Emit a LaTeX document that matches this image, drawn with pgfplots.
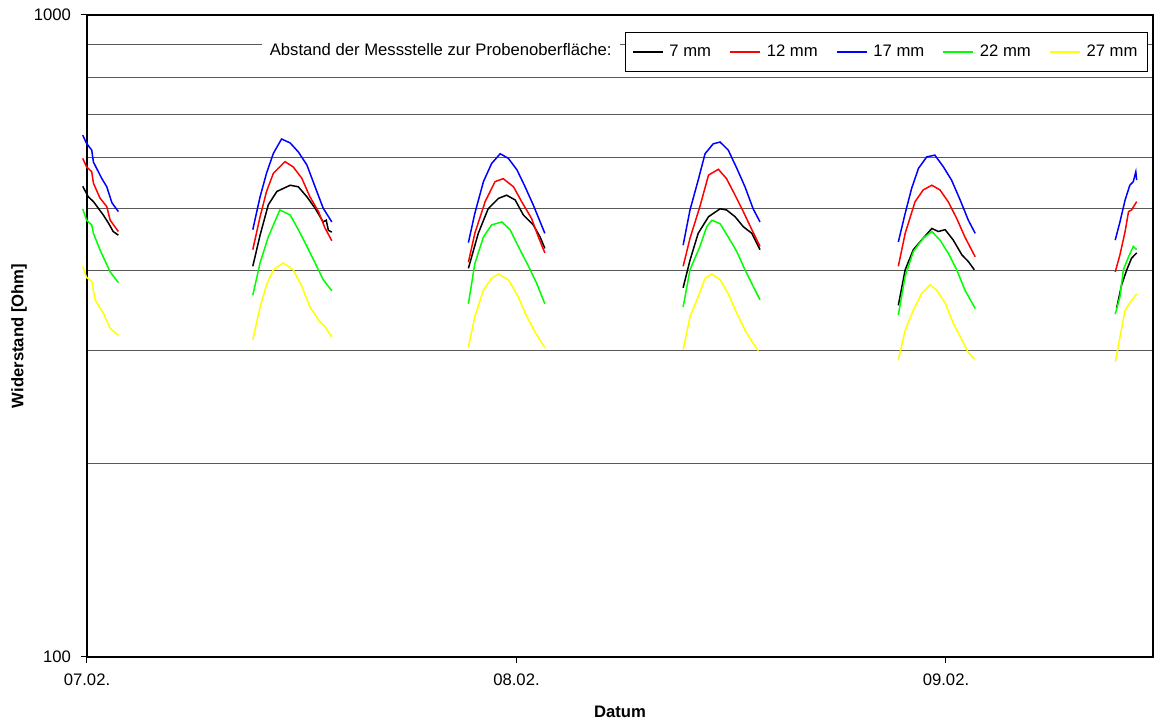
\documentclass[border=0pt]{standalone}
\usepackage{fontspec}
\setmainfont{Liberation Sans}
\usepackage{pgfplots}
\pgfplotsset{compat=1.18}
\definecolor{SerRed}{HTML}{FF0000}
\definecolor{SerBlue}{HTML}{0000FF}
\definecolor{SerGreen}{HTML}{00FF00}
\definecolor{SerYellow}{HTML}{FFFF00}
\begin{document}
\begin{tikzpicture}
\begin{axis}[
  scale only axis,
  width=639.6pt, height=385.2pt,
  xmin=0, xmax=2.482,
  ymode=log, ymin=100, ymax=1000,
  clip=false,
  unbounded coords=jump,
  xtick={0,1,2}, xticklabels={07.02.,08.02.,09.02.},
  ytick={100,1000}, yticklabels={100,1000},
  minor ytick={200,300,400,500,600,700,800,900},
  yminorgrids,
  minor grid style={black!65, line width=0.6pt},
  minor tick length=0pt,
  major tick length=3.6pt,
  tick align=outside,
  xtick pos=left, ytick pos=left,
  tick style={black, line width=0.6pt},
  axis line style={black, line width=0.8pt},
  /pgf/number format/assume math mode=true,
  ticklabel style={font=\fontsize{10}{12}\selectfont},
  xticklabel style={yshift=-3pt},
  yticklabel style={xshift=-2.5pt},
  xlabel={\textbf{Datum}},
  ylabel={\textbf{Widerstand [Ohm]}},
  label style={font=\fontsize{10}{12}\selectfont},
  xlabel style={at={(axis description cs:0.5,-0.0857)}, anchor=center},
  ylabel style={at={(axis description cs:-0.0638,0.5)}, anchor=center},
  legend columns=5,
  legend style={at={(rel axis cs:0.9953,0.9735)}, anchor=north east,
    draw=black, line width=0.6pt, fill=white,
    inner xsep=4pt, inner ysep=5.5pt,
    font=\fontsize{10}{12}\selectfont,
    /tikz/every odd column/.append style={column sep=1.5pt},
    /tikz/every even column/.append style={column sep=9pt}},
  legend image code/.code={\draw[#1, line width=0.9pt] (0pt,0pt) -- (18pt,0pt);},
]
% 7 mm
\addplot[black, line width=0.9pt] coordinates {
 (-0.010,541) (0.003,521) (0.015,512) (0.038,488) (0.050,474) (0.061,460) (0.073,454)
 (0.2,nan)
 (0.386,406) (0.403,454) (0.422,506) (0.442,531) (0.473,543) (0.492,540) (0.512,521) (0.531,500) (0.550,476) (0.557,479) (0.562,462) (0.570,459)
 (0.7,nan)
 (0.888,403) (0.911,457) (0.934,499) (0.958,518) (0.977,524) (0.997,515) (1.016,488) (1.039,471) (1.055,451) (1.066,433)
 (1.2,nan)
 (1.388,376) (1.404,415) (1.423,457) (1.447,485) (1.474,499) (1.489,497) (1.509,485) (1.528,468) (1.548,457) (1.567,431)
 (1.7,nan)
 (1.889,353) (1.905,401) (1.924,431) (1.943,446) (1.967,465) (1.982,460) (1.998,463) (2.017,446) (2.037,423) (2.052,413) (2.066,401)
 (2.2,nan)
 (2.397,349) (2.409,380) (2.421,401) (2.432,418) (2.444,426)
};
% 12 mm
\addplot[SerRed, line width=0.9pt] coordinates {
 (-0.010,598) (-0.001,580) (0.011,570) (0.015,547) (0.030,519) (0.046,503) (0.054,479) (0.073,460)
 (0.2,nan)
 (0.386,431) (0.403,485) (0.418,531) (0.434,567) (0.461,591) (0.480,580) (0.500,557) (0.519,521) (0.539,494) (0.554,466) (0.570,445)
 (0.7,nan)
 (0.888,412) (0.903,457) (0.927,512) (0.950,550) (0.969,556) (0.993,540) (1.012,512) (1.035,482) (1.051,451) (1.066,426)
 (1.2,nan)
 (1.388,406) (1.404,449) (1.427,503) (1.447,563) (1.470,575) (1.489,556) (1.509,524) (1.528,494) (1.548,463) (1.567,436)
 (1.7,nan)
 (1.889,406) (1.905,457) (1.928,512) (1.947,534) (1.967,543) (1.986,534) (2.005,512) (2.025,482) (2.044,451) (2.068,420)
 (2.2,nan)
 (2.394,398) (2.405,423) (2.417,460) (2.425,494) (2.432,497) (2.444,512)
};
% 17 mm
\addplot[SerBlue, line width=0.9pt] coordinates {
 (-0.010,650) (-0.001,631) (0.011,616) (0.015,590) (0.034,557) (0.046,540) (0.058,510) (0.073,494)
 (0.2,nan)
 (0.386,463) (0.403,521) (0.418,567) (0.434,609) (0.453,641) (0.473,632) (0.492,612) (0.512,584) (0.531,540) (0.550,500) (0.570,476)
 (0.7,nan)
 (0.888,442) (0.903,491) (0.923,550) (0.942,587) (0.962,608) (0.981,598) (1.001,574) (1.020,540) (1.039,506) (1.066,457)
 (1.2,nan)
 (1.388,438) (1.404,497) (1.423,553) (1.439,608) (1.458,630) (1.474,634) (1.493,616) (1.513,577) (1.532,540) (1.551,499) (1.567,476)
 (1.7,nan)
 (1.889,443) (1.905,491) (1.920,537) (1.936,577) (1.955,601) (1.974,605) (1.994,580) (2.013,553) (2.033,515) (2.052,479) (2.068,457)
 (2.2,nan)
 (2.394,446) (2.405,476) (2.417,515) (2.428,543) (2.436,550) (2.442,570) (2.444,553)
};
% 22 mm
\addplot[SerGreen, line width=0.9pt] coordinates {
 (-0.010,499) (-0.001,479) (0.011,471) (0.015,457) (0.030,431) (0.054,398) (0.073,383)
 (0.2,nan)
 (0.386,366) (0.403,411) (0.422,451) (0.449,497) (0.473,488) (0.492,463) (0.512,436) (0.531,411) (0.550,387) (0.570,372)
 (0.7,nan)
 (0.888,355) (0.903,410) (0.923,451) (0.942,471) (0.966,476) (0.985,463) (1.008,431) (1.028,406) (1.047,382) (1.066,355)
 (1.2,nan)
 (1.388,351) (1.404,401) (1.427,436) (1.443,468) (1.455,479) (1.474,473) (1.493,451) (1.513,428) (1.532,401) (1.551,378) (1.567,360)
 (1.7,nan)
 (1.889,341) (1.905,392) (1.924,428) (1.947,449) (1.967,460) (1.986,446) (2.005,426) (2.025,401) (2.044,373) (2.068,349)
 (2.2,nan)
 (2.394,342) (2.405,364) (2.413,401) (2.425,420) (2.436,436) (2.444,431)
};
% 27 mm
\addplot[SerYellow, line width=0.9pt] coordinates {
 (-0.010,406) (-0.001,390) (0.011,385) (0.019,360) (0.038,343) (0.054,325) (0.073,317)
 (0.2,nan)
 (0.386,312) (0.403,351) (0.418,380) (0.434,401) (0.457,411) (0.480,401) (0.500,378) (0.519,351) (0.539,335) (0.554,327) (0.570,315)
 (0.7,nan)
 (0.888,304) (0.903,339) (0.923,373) (0.942,389) (0.958,395) (0.981,387) (1.004,364) (1.024,339) (1.043,321) (1.066,303)
 (1.2,nan)
 (1.388,301) (1.404,339) (1.423,364) (1.439,389) (1.455,395) (1.474,387) (1.493,368) (1.513,343) (1.532,323) (1.551,308) (1.563,300)
 (1.7,nan)
 (1.889,290) (1.905,323) (1.924,347) (1.943,368) (1.963,380) (1.978,373) (1.998,356) (2.017,331) (2.037,312) (2.052,298) (2.066,291)
 (2.2,nan)
 (2.394,288) (2.405,315) (2.417,347) (2.428,356) (2.444,368)
};
\legend{7 mm,12 mm,17 mm,22 mm,27 mm}
\node[anchor=east, fill=white, inner xsep=4.8pt, inner ysep=5pt,
  font=\fontsize{10}{12}\selectfont] at (rel axis cs:0.5,0.9455)
  {Abstand der Messstelle zur Probenoberfläche:};
\end{axis}
\path ([xshift=-52.2pt,yshift=-39pt]current axis.south west)
  rectangle ([xshift=0.6pt,yshift=9pt]current axis.north east);
\end{tikzpicture}
\end{document}
